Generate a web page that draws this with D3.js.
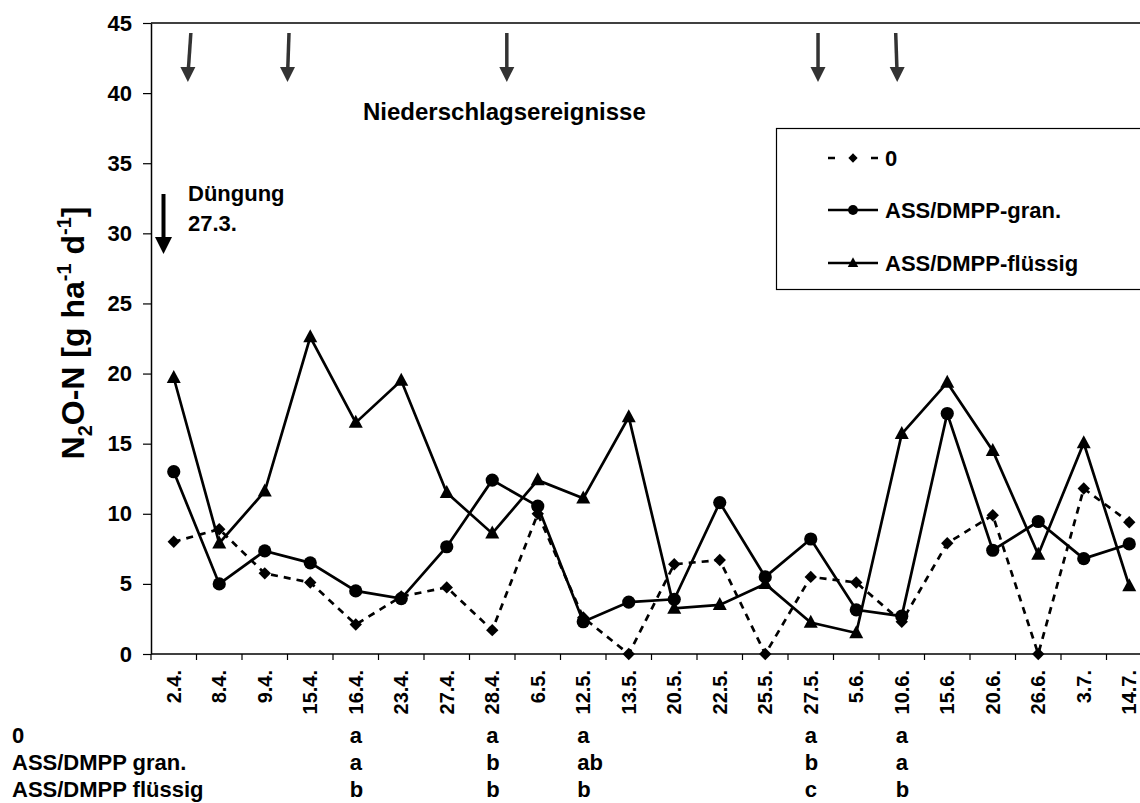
<!DOCTYPE html>
<html>
<head>
<meta charset="utf-8">
<script src="https://cdn.jsdelivr.net/npm/d3@7"></script>
<style>
  html, body { margin: 0; padding: 0; background: #fff; }
  svg { display: block; }
  text { font-family: "Liberation Sans", Arial, Helvetica, sans-serif; font-weight: bold; fill: #000; }
</style>
</head>
<body>
<svg id="chart" width="1140" height="803"></svg>
<script>
// Sampling dates
const dates = ["2.4.","8.4.","9.4.","15.4.","16.4.","23.4.","27.4.","28.4.","6.5.","12.5.","13.5.",
  "20.5.","22.5.","25.5.","27.5.","5.6.","10.6.","15.6.","20.6.","26.6.","3.7.","14.7."];

// N2O-N flux, g ha-1 d-1
const control  = [8.0, 8.9, 5.75, 5.1, 2.1, 4.1, 4.75, 1.7, 10.0, 2.6, 0, 6.4, 6.7, 0, 5.5, 5.1, 2.3, 7.9, 9.9, 0, 11.8, 9.4];
const granular = [13.0, 5.0, 7.35, 6.5, 4.5, 3.95, 7.65, 12.4, 10.55, 2.3, 3.7, 3.9, 10.8, 5.5, 8.2, 3.15, 2.7, 17.15, 7.4, 9.45, 6.8, 7.85];
const liquid   = [19.7, 7.9, 11.6, 22.6, 16.5, 19.5, 11.5, 8.6, 12.4, 11.1, 16.9, 3.25, 3.5, 5.0, 2.25, 1.5, 15.7, 19.35, 14.5, 7.1, 15.05, 4.85];

const seriesNames = ["0", "ASS/DMPP-gran.", "ASS/DMPP-flüssig"];
const yTicks = [0, 5, 10, 15, 20, 25, 30, 35, 40, 45];

// Significance letters per treatment row
const rowLabels = ["0", "ASS/DMPP gran.", "ASS/DMPP flüssig"];
const letterDates = ["16.4.", "28.4.", "12.5.", "27.5.", "10.6."];
const lettersControl  = ["a", "a", "a", "a", "a"];
const lettersGranular = ["a", "b", "ab", "b", "a"];
const lettersLiquid   = ["b", "b", "b", "c", "b"];

// Rain events, as fractional positions along the date axis
const rainEvents = [0.31, 2.5, 7.32, 14.16, 15.9];

const svg = d3.select("#chart");
const plotLeft = 151, plotRight = 1152, plotTop = 23, plotBottom = 654;

const x = d3.scaleBand().domain(dates).range([plotLeft, plotRight]).padding(0);
const cx = d => x(d) + x.bandwidth() / 2;
const xi = d3.scaleLinear().domain([0, dates.length - 1]).range([cx(dates[0]), cx(dates[dates.length - 1])]);
const y = d3.scaleLinear().domain([0, 45]).range([plotBottom, plotTop]);

// Frame: top border and right border
svg.append("line").attr("x1", plotLeft).attr("x2", plotRight).attr("y1", plotTop).attr("y2", plotTop)
  .attr("stroke", "#000").attr("stroke-width", 1.5);
svg.append("line").attr("x1", plotRight).attr("x2", plotRight).attr("y1", plotTop).attr("y2", plotBottom)
  .attr("stroke", "#000").attr("stroke-width", 1.5);

// Y axis
const yAxis = svg.append("g").attr("transform", `translate(${plotLeft},0)`)
  .call(d3.axisLeft(y).tickValues(yTicks).tickSize(8).tickPadding(11).tickSizeOuter(0));
yAxis.select(".domain").attr("stroke-width", 1.5);
yAxis.selectAll(".tick line").attr("stroke-width", 1.2);
yAxis.selectAll(".tick text").style("font-size", "22px").attr("font-family", null).attr("fill", "#000");

// X axis: ticks on category boundaries
const xAxisG = svg.append("g");
xAxisG.append("line").attr("x1", plotLeft).attr("x2", plotRight).attr("y1", plotBottom).attr("y2", plotBottom)
  .attr("stroke", "#000").attr("stroke-width", 1.5);
const boundaries = dates.map(d => x(d)).concat([plotRight]);
xAxisG.selectAll("line.xt").data(boundaries).enter().append("line").attr("class", "xt")
  .attr("x1", d => d).attr("x2", d => d).attr("y1", plotBottom).attr("y2", plotBottom + 6)
  .attr("stroke", "#000").attr("stroke-width", 1.2);
xAxisG.selectAll("text").data(dates).enter().append("text")
  .attr("transform", d => `translate(${cx(d)},${plotBottom + 16}) rotate(-90)`)
  .attr("text-anchor", "end").attr("dy", "0.36em")
  .style("font-size", "20px").text(d => d);

// Y axis title
const yt = svg.append("text").attr("transform", `translate(84,333) rotate(-90)`)
  .attr("text-anchor", "middle").style("font-size", "32px");
yt.append("tspan").text("N");
yt.append("tspan").text("2").style("font-size", "20px").attr("dy", 8);
yt.append("tspan").text("O-N [g ha").attr("dy", -8);
yt.append("tspan").text("-1").style("font-size", "20px").attr("dy", -13);
yt.append("tspan").text(" d").attr("dy", 13);
yt.append("tspan").text("-1").style("font-size", "20px").attr("dy", -13);
yt.append("tspan").text("]").attr("dy", 13);

// Marker shapes
function drawMarker(g, kind, px, py, scale) {
  const s = scale || 1;
  if (kind === "diamond") {
    const r = 6.2 * s;
    g.append("path").attr("d", `M${px},${py - r}L${px + r},${py}L${px},${py + r}L${px - r},${py}Z`).attr("fill", "#000");
  } else if (kind === "circle") {
    g.append("circle").attr("cx", px).attr("cy", py).attr("r", 6.6 * s).attr("fill", "#000");
  } else {
    const w = 7 * s, h = 13 * s;
    g.append("path").attr("d", `M${px},${py - h * 0.6}L${px + w},${py + h * 0.4}L${px - w},${py + h * 0.4}Z`).attr("fill", "#000");
  }
}

const series = [
  { name: seriesNames[0], values: control, kind: "diamond", dash: "7,6" },
  { name: seriesNames[1], values: granular, kind: "circle", dash: null },
  { name: seriesNames[2], values: liquid, kind: "triangle", dash: null }
];

const line = d3.line().x((v, i) => cx(dates[i])).y(v => y(v));
const plot = svg.append("g");
series.forEach(s => {
  plot.append("path").datum(s.values).attr("d", line)
    .attr("fill", "none").attr("stroke", "#000").attr("stroke-width", 2.7)
    .attr("stroke-dasharray", s.dash).attr("stroke-linejoin", "miter");
});
series.forEach(s => {
  const g = plot.append("g");
  s.values.forEach((v, i) => drawMarker(g, s.kind, cx(dates[i]), y(v)));
});

// Rain event arrows
const rainTop = 33, rainTip = 82;
rainEvents.forEach((k, j) => {
  const ax = xi(k);
  const tilt = j === 0 ? 3 : (j === 1 ? 1.5 : (j === 4 ? -1.5 : 0));
  const g = svg.append("g");
  g.append("line").attr("x1", ax + tilt).attr("y1", rainTop).attr("x2", ax + tilt * 0.2).attr("y2", rainTip - 14)
    .attr("stroke", "#333").attr("stroke-width", 3.5);
  g.append("path").attr("d", `M${ax - 7.5},${rainTip - 15}L${ax + 7.5},${rainTip - 15}L${ax},${rainTip}Z`).attr("fill", "#333");
});
svg.append("text").attr("x", 363).attr("y", 120).style("font-size", "24px").text("Niederschlagsereignisse");

// Fertilisation arrow
const fx = 163.5;
svg.append("line").attr("x1", fx).attr("x2", fx).attr("y1", 194).attr("y2", 238)
  .attr("stroke", "#000").attr("stroke-width", 4);
svg.append("path").attr("d", `M${fx - 8.5},237L${fx + 8.5},237L${fx},254Z`).attr("fill", "#000");
svg.append("text").attr("x", 188).attr("y", 201).style("font-size", "22px").text("Düngung");
svg.append("text").attr("x", 188).attr("y", 231).style("font-size", "22px").text("27.3.");

// Legend
const lg = svg.append("g");
lg.append("rect").attr("x", 776.5).attr("y", 128.5).attr("width", 380).attr("height", 161)
  .attr("fill", "#fff").attr("stroke", "#000").attr("stroke-width", 1.2);
const legendY = [158, 210, 263];
series.forEach((s, i) => {
  const ly = legendY[i];
  lg.append("line").attr("x1", 828).attr("x2", 878).attr("y1", ly).attr("y2", ly)
    .attr("stroke", "#000").attr("stroke-width", 2.6)
    .attr("stroke-dasharray", s.dash ? "7,36,7" : null);
  drawMarker(lg, s.kind, 853, ly, 0.75);
  lg.append("text").attr("x", 885).attr("y", ly + 8).style("font-size", "22px").text(s.name);
});

// Significance letters
const rowY = [743, 770, 797];
const letterRows = [lettersControl, lettersGranular, lettersLiquid];
rowLabels.forEach((r, i) => {
  svg.append("text").attr("x", 12).attr("y", rowY[i]).style("font-size", "22px").text(r);
  svg.selectAll(null).data(letterDates).enter().append("text")
    .attr("x", d => cx(d) - 6).attr("y", rowY[i])
    .style("font-size", "22px").text((d, j) => letterRows[i][j]);
});
</script>
</body>
</html>
